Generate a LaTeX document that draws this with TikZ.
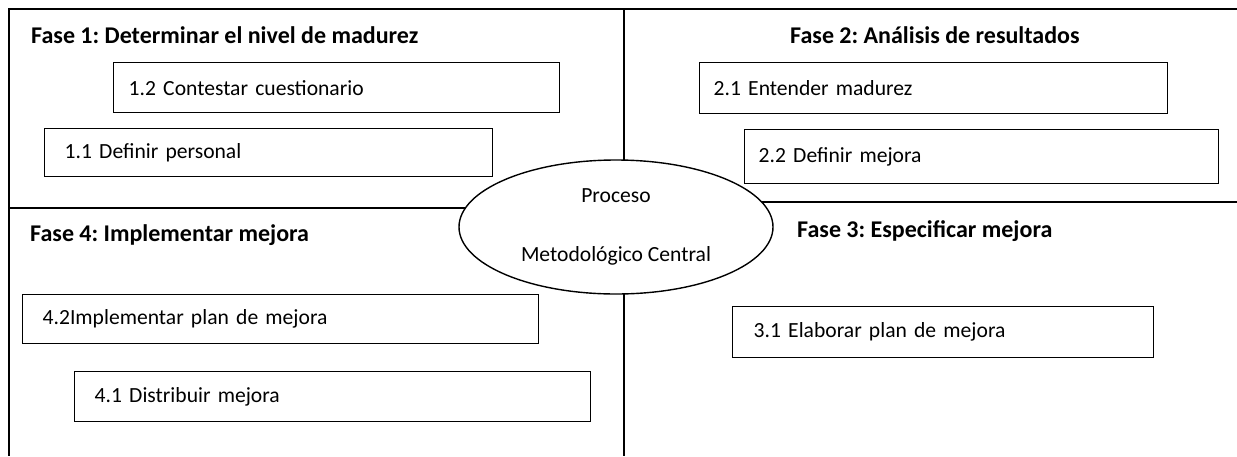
\documentclass[tikz,border=0pt]{standalone}
\usepackage{fontspec}
\setmainfont{Carlito}
\usetikzlibrary{shapes.geometric,positioning,calc}

\newcommand{\cuerpo}{\fontsize{21.6}{26}\selectfont}
\newcommand{\titulo}{\fontsize{24}{29}\selectfont\bfseries}
\frenchspacing

\begin{document}
\begin{tikzpicture}[x=1pt,y=-1pt,
    marco/.style={line width=2pt},
    tarea/.style n args={3}{draw,line width=1.4pt,anchor=north west,inner xsep=#3pt,
      text width=#1pt-2*#3pt,minimum height=#2pt,align=left,font=\cuerpo},
    fase/.style={anchor=base west,inner sep=0pt,font=\titulo}]
  \useasboundingbox (0,0) rectangle (1237,456);
  % marco y divisiones
  \draw[marco] (1237,9) -- (9,9) -- (9,456);
  \draw[marco] (624,9) -- (624,456);
  \draw[marco] (9,208) -- (616,208);
  \draw[marco] (616,202) -- (1237,202);
  % proceso central
  \node[ellipse,draw,fill=white,line width=1.4pt,minimum width=314pt,minimum height=134pt,
    inner sep=0pt,align=center,font=\cuerpo] (centro) at (616,227) {Proceso\\[33pt]Metodológico Central};
  % fases
  \node[fase] (f1) at (31,43) {Fase 1: Determinar el nivel de madurez};
  \node[fase] (f2) at (790,43) {Fase 2: Análisis de resultados};
  \node[fase] (f3) at (797,237) {Fase 3: Especificar mejora};
  \node[fase] (f4) at (30,241) {Fase 4: Implementar mejora};
  % tareas
  \node[tarea={446}{50}{15}] (t12) at (113,62) {1.2 Contestar cuestionario};
  \node[tarea={448}{48}{20}] (t11) at (44,128) {1.1 Definir personal};
  \node[tarea={468}{51}{14}] (t21) at (699,62) {2.1 Entender madurez};
  \node[tarea={474}{54}{14}] (t22) at (744,129) {2.2 Definir mejora};
  \node[tarea={421}{51}{21}] (t31) at (732,306) {3.1 Elaborar plan de mejora};
  \node[tarea={516}{49}{20}] (t42) at (22,294) {4.2Implementar plan de mejora};
  \node[tarea={516}{50}{20}] (t41) at (74,371) {4.1 Distribuir mejora};
\end{tikzpicture}
\end{document}
